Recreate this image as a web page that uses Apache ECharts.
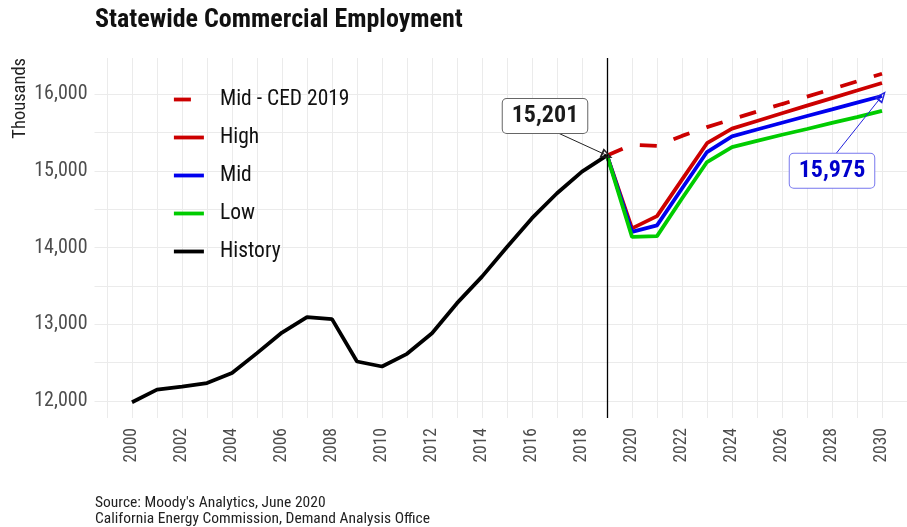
<!DOCTYPE html>
<html>
<head>
<meta charset="utf-8">
<script src="https://cdn.jsdelivr.net/npm/echarts@6/dist/echarts.min.js"></script>
<style>
  html, body { margin: 0; padding: 0; background: #fff; }
  #chart { width: 907px; height: 527px; }
</style>
</head>
<body>
<div id="chart"></div>
<script>
// ---- data ----
const historyYears = [2000,2001,2002,2003,2004,2005,2006,2007,2008,2009,2010,2011,2012,2013,2014,2015,2016,2017,2018,2019];
const historyValues = [11985,12150,12190,12235,12365,12625,12893,13094,13068,12516,12451,12616,12885,13276,13622,14008,14383,14708,14990,15201];
const forecastYears = [2019,2020,2021,2022,2023,2024,2025,2026,2027,2028,2029,2030];
const midCed2019 = [15201,15340,15325,15455,15570,15672,15772,15870,15967,16065,16165,16265];
const highValues = [15201,14250,14410,14885,15360,15550,15650,15750,15850,15948,16046,16145];
const midValues  = [15201,14205,14290,14770,15245,15450,15538,15626,15714,15800,15888,15975];
const lowValues  = [15201,14140,14150,14640,15115,15310,15390,15470,15545,15625,15700,15780];
const seriesNames = ['Mid - CED 2019','High','Mid','Low','History'];
const xLabelYears = [2000,2002,2004,2006,2008,2010,2012,2014,2016,2018,2020,2022,2024,2026,2028,2030];
const xGridYears = [1999,2000,2001,2002,2003,2004,2005,2006,2007,2008,2009,2010,2011,2012,2013,2014,2015,2016,2017,2018,2019,2020,2021,2022,2023,2024,2025,2026,2027,2028,2029,2030,2031];
const yLabelValues = [12000,13000,14000,15000,16000];
const yGridValues = [12000,12500,13000,13500,14000,14500,15000,15500,16000];
const forecastStartYear = 2019;
// callout anchors (data space): [boxX, boxY, arrowFromX, arrowFromY]
const calloutHistory = [2016.52, 15715, 2017.05, 15492];
const calloutMid = [2028.0, 15000, 2028.15, 15220];

const FONT = "'Roboto Condensed', 'Liberation Sans Narrow', 'DejaVu Sans Condensed', Roboto, sans-serif";
const fmt = v => v.toLocaleString('en-US');
const pairs = (xs, ys) => xs.map((x, i) => [x, ys[i]]);
const arrowHead = 'path://M0,0 L10,20 L-10,20 Z M0,6 L-5.5,17 L5.5,17 Z';

const chart = echarts.init(document.getElementById('chart'), null, {renderer: 'canvas'});

const lineBase = {type: 'line', symbol: 'none', showSymbol: false, z: 3, animation: false};
const LW = 3.8;

const option = {
  animation: false,
  backgroundColor: '#ffffff',
  textStyle: {fontFamily: FONT},
  title: {
    text: 'Statewide Commercial Employment',
    left: 95, top: 6, padding: 0,
    textStyle: {fontFamily: FONT, fontSize: 26, fontWeight: 'bold', color: '#111', lineHeight: 28}
  },
  grid: {left: 94.5, right: 0, top: 58, bottom: 109, containLabel: false},
  legend: {
    orient: 'vertical', left: 172, top: 88.5, padding: 0,
    itemWidth: 30, itemHeight: 14, itemGap: 16,
    data: seriesNames,
    lineStyle: {width: 3.8},
    itemStyle: {color: 'transparent', borderWidth: 0, opacity: 0},
    textStyle: {fontFamily: FONT, fontSize: 21.5, color: '#111', lineHeight: 22, padding: [0,0,0,11]}
  },
  xAxis: {
    type: 'value', min: 1998.5, max: 2031,
    axisLine: {show: false},
    axisTick: {show: false, customValues: xGridYears},
    axisLabel: {customValues: xLabelYears, rotate: 90, margin: 10, fontFamily: FONT, fontSize: 17.5, color: '#4d4d4d',
                formatter: v => String(v)},
    splitLine: {show: true, lineStyle: {color: '#ebebeb', width: 1}}
  },
  yAxis: {
    type: 'value', min: 11780, max: 16470,
    axisLine: {show: false},
    axisTick: {show: false, customValues: yGridValues},
    axisLabel: {customValues: yLabelValues, margin: 7, fontFamily: FONT, fontSize: 20, color: '#4d4d4d',
                formatter: v => fmt(v)},
    splitLine: {show: true, lineStyle: {color: '#ebebeb', width: 1}}
  },
  graphic: [
    {type: 'text', x: 20, y: 58, rotation: Math.PI / 2,
     style: {text: 'Thousands', fontFamily: FONT, fontSize: 18.5, fill: '#222', align: 'right', verticalAlign: 'middle'}},
    {type: 'text', x: 95, y: 503,
     style: {text: "Source: Moody's Analytics, June 2020", fontFamily: FONT, fontSize: 15.5, fill: '#222', align: 'left', verticalAlign: 'middle'}},
    {type: 'text', x: 95, y: 519,
     style: {text: 'California Energy Commission, Demand Analysis Office', fontFamily: FONT, fontSize: 15.5, fill: '#222', align: 'left', verticalAlign: 'middle'}}
  ],
  series: [
    Object.assign({}, lineBase, {
      name: seriesNames[0], data: pairs(forecastYears, midCed2019), color: '#cc0000',
      lineStyle: {color: '#cc0000', width: LW, type: [17, 18], cap: 'butt'}
    }),
    Object.assign({}, lineBase, {
      name: seriesNames[1], data: pairs(forecastYears, highValues), color: '#cc0000',
      lineStyle: {color: '#cc0000', width: LW}
    }),
    Object.assign({}, lineBase, {
      name: seriesNames[2], data: pairs(forecastYears, midValues), color: '#0000ee',
      lineStyle: {color: '#0000ee', width: LW},
      markLine: {
        silent: true, animation: false, label: {show: false},
        lineStyle: {color: '#2222dd', width: 1, type: 'solid'},
        symbolSize: [10, 12],
        data: [[
          {coord: [calloutMid[2], calloutMid[3]], symbol: 'none'},
          {coord: [forecastYears[forecastYears.length - 1], midValues[midValues.length - 1]], symbol: arrowHead}
        ]]
      },
      markPoint: {
        silent: true, animation: false, symbol: 'rect', symbolSize: 0,
        data: [{coord: [calloutMid[0], calloutMid[1]]}],
        label: {show: true, position: 'inside', formatter: () => fmt(midValues[midValues.length - 1]),
                fontFamily: FONT, fontSize: 24, fontWeight: 'bold', color: '#0000cc', lineHeight: 24,
                backgroundColor: '#fff', borderColor: '#7777ee', borderWidth: 1, borderRadius: 4, padding: [5, 9, 5, 9]}
      }
    }),
    Object.assign({}, lineBase, {
      name: seriesNames[3], data: pairs(forecastYears, lowValues), color: '#00cc00',
      lineStyle: {color: '#00cc00', width: LW}
    }),
    Object.assign({}, lineBase, {
      name: seriesNames[4], data: pairs(historyYears, historyValues), color: '#000000',
      lineStyle: {color: '#000000', width: LW},
      markLine: {
        silent: true, animation: false, label: {show: false},
        lineStyle: {color: '#000', width: 1.3, type: 'solid'},
        symbolSize: [10, 12],
        data: [
          [{xAxis: forecastStartYear, yAxis: 11780, symbol: 'none'}, {xAxis: forecastStartYear, yAxis: 16470, symbol: 'none'}],
          [{coord: [calloutHistory[2], calloutHistory[3]], symbol: 'none', lineStyle: {color: '#222', width: 1}},
           {coord: [historyYears[historyYears.length - 1], historyValues[historyValues.length - 1]], symbol: arrowHead}]
        ]
      },
      markPoint: {
        silent: true, animation: false, symbol: 'rect', symbolSize: 0,
        data: [{coord: [calloutHistory[0], calloutHistory[1]]}],
        label: {show: true, position: 'inside', formatter: () => fmt(historyValues[historyValues.length - 1]),
                fontFamily: FONT, fontSize: 24, fontWeight: 'bold', color: '#1a1a1a', lineHeight: 24,
                backgroundColor: '#fff', borderColor: '#666', borderWidth: 1, borderRadius: 4, padding: [5, 9, 5, 9]}
      }
    })
  ]
};
chart.setOption(option);
</script>
</body>
</html>
